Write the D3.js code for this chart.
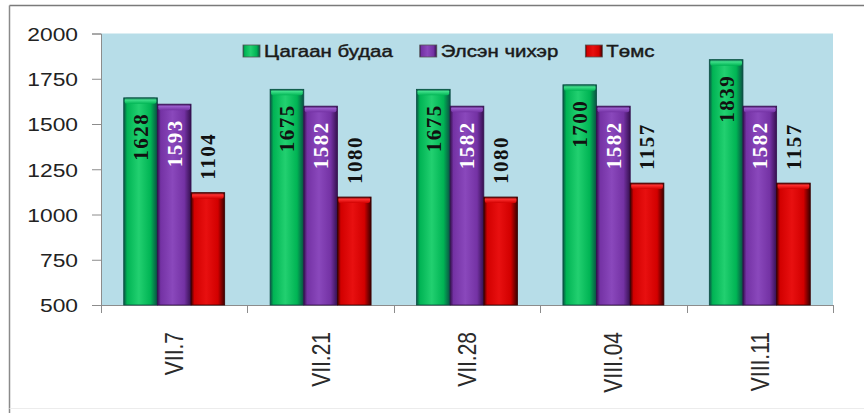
<!DOCTYPE html>
<html>
<head>
  <meta charset="utf-8">
  <title>Price chart</title>
  <script src="https://d3js.org/d3.v7.min.js"></script>
  <style>
    body { margin: 0; background: #ffffff; }
    svg { display: block; }
    .tick-label { font-family: 'Liberation Sans', Arial, sans-serif; fill: #222; }
    .legend-text { font-family: 'Liberation Sans', Arial, sans-serif; font-size: 17px; fill: #1a1a1a; stroke: #1a1a1a; stroke-width: 0.45px; }
    .value-label { font-family: 'Liberation Serif', 'Times New Roman', serif; font-weight: bold; font-size: 21px; letter-spacing: 1.5px; }
  </style>
</head>
<body>
<div id="chart"></div>
<script>
  // data
  const categories = ["VII.7", "VII.21", "VII.28", "VIII.04", "VIII.11"];
  const seriesNames = ["Цагаан будаа", "Элсэн чихэр", "Төмс"];
  const wheat = [1628, 1675, 1675, 1700, 1839];
  const sugar = [1593, 1582, 1582, 1582, 1582];
  const potato = [1104, 1080, 1080, 1157, 1157];
  const yTicks = [500, 750, 1000, 1250, 1500, 1750, 2000];

  const seriesValues = [wheat, sugar, potato];
  const palette = [
    { dark: "#0b4f44", base: "#00b454", light: "#22d070", cap: "#3fe08a", text: "#111" },
    { dark: "#35104f", base: "#7432a4", light: "#8a48bc", cap: "#9a5ccc", text: "#fff" },
    { dark: "#3a0000", base: "#d20000", light: "#e81010", cap: "#ff3030", text: "#111" }
  ];

  const W = 864, H = 413;
  const plot = { left: 101, right: 833, top: 33.5, bottom: 305 };
  const sx = 1.2; // the picture is stretched sideways

  const svg = d3.select("#chart").append("svg")
    .attr("width", W).attr("height", H);

  const defs = svg.append("defs");
  palette.forEach((p, i) => {
    const g = defs.append("linearGradient").attr("id", "bar" + i)
      .attr("x1", "0").attr("x2", "1").attr("y1", "0").attr("y2", "0");
    [[0, p.dark], [0.1, p.base], [0.45, p.light], [0.8, p.base], [1, p.dark]]
      .forEach(s => g.append("stop").attr("offset", s[0]).attr("stop-color", s[1]));
    const c = defs.append("linearGradient").attr("id", "cap" + i)
      .attr("x1", "0").attr("x2", "0").attr("y1", "0").attr("y2", "1");
    [[0, p.dark], [0.35, p.cap], [1, p.base]]
      .forEach(s => c.append("stop").attr("offset", s[0]).attr("stop-color", s[1]));
  });

  // outer frame
  svg.append("line").attr("x1", 9.5).attr("x2", W).attr("y1", 5.5).attr("y2", 5.5)
    .attr("stroke", "#7a7a7a").attr("stroke-width", 1.5);
  svg.append("line").attr("x1", 9.5).attr("x2", 9.5).attr("y1", 5.5).attr("y2", H)
    .attr("stroke", "#8a8a8a").attr("stroke-width", 1.5);
  svg.append("line").attr("x1", 9.5).attr("x2", W).attr("y1", 408.5).attr("y2", 408.5)
    .attr("stroke", "#ececec");

  const x0 = d3.scaleBand().domain(categories).range([plot.left, plot.right]).padding(0);
  const x1 = d3.scaleBand().domain(d3.range(seriesNames.length))
    .range([0, x0.bandwidth()]).paddingInner(0).paddingOuter(0.675);
  const y = d3.scaleLinear().domain([500, 2000]).range([plot.bottom, plot.top]);

  // plot background
  svg.append("rect")
    .attr("x", plot.left).attr("y", plot.top)
    .attr("width", plot.right - plot.left).attr("height", plot.bottom - plot.top)
    .attr("fill", "#b7dde8");

  // y axis
  const yAxis = svg.append("g").attr("transform", `translate(${plot.left},0)`)
    .call(d3.axisLeft(y).tickValues(yTicks).tickSize(9).tickFormat(d3.format("d")));
  yAxis.select(".domain").attr("stroke", "#8c8c8c");
  yAxis.selectAll(".tick line").attr("stroke", "#8c8c8c");
  yAxis.selectAll(".tick text").remove();
  yAxis.selectAll(".tick").append("text")
    .attr("class", "tick-label")
    .attr("transform", `translate(-23,0) scale(${sx},1)`)
    .attr("text-anchor", "end").attr("dy", "0.36em")
    .style("font-size", "19px")
    .text(d => d);

  // x axis, ticks on the category boundaries
  const xg = svg.append("g").attr("transform", `translate(0,${plot.bottom})`);
  xg.append("line").attr("x1", plot.left).attr("x2", plot.right)
    .attr("y1", 0.5).attr("y2", 0.5).attr("stroke", "#8c8c8c");
  const bounds = categories.map(c => x0(c)).concat([plot.right]);
  xg.selectAll(".xt").data(bounds).join("line").attr("class", "xt")
    .attr("x1", d => Math.round(d) + 0.5).attr("x2", d => Math.round(d) + 0.5)
    .attr("y1", 0).attr("y2", 8).attr("stroke", "#8c8c8c");
  xg.selectAll(".cat").data(categories).join("text")
    .attr("class", "tick-label")
    .attr("transform", d => `translate(${x0(d) + x0.bandwidth() / 2},${332 - plot.bottom}) scale(${sx},1) rotate(-90)`)
    .attr("text-anchor", "end").attr("dy", "0.36em")
    .style("font-size", "21px").style("fill", "#2a2a2a")
    .text(d => d);

  // bars
  const groups = svg.selectAll(".grp").data(categories).join("g")
    .attr("class", "grp")
    .attr("transform", d => `translate(${x0(d)},0)`);

  groups.each(function (cat, ci) {
    const g = d3.select(this);
    seriesValues.forEach((vals, si) => {
      const v = vals[ci];
      const bx = x1(si), bw = x1.bandwidth();
      const top = y(v) - 3;
      g.append("rect")
        .attr("x", bx).attr("y", top)
        .attr("width", bw).attr("height", plot.bottom - top)
        .attr("fill", `url(#bar${si})`)
        .attr("stroke", palette[si].dark).attr("stroke-width", 0.8);
      g.append("rect")
        .attr("x", bx + 1).attr("y", top)
        .attr("width", bw - 2).attr("height", 6)
        .attr("rx", 2)
        .attr("fill", `url(#cap${si})`);
      const inside = si < 2;
      g.append("text")
        .attr("class", "value-label")
        .attr("transform", `translate(${bx + bw / 2},${inside ? top + 15 : top - 13}) rotate(-90)`)
        .attr("text-anchor", inside ? "end" : "start")
        .attr("dy", "0.35em")
        .style("fill", palette[si].text)
        .text(v);
    });
  });

  // legend, laid out left to right
  const legend = svg.append("g").attr("transform", "translate(243,0)");
  let lx = 0;
  seriesNames.forEach((name, i) => {
    legend.append("rect")
      .attr("x", lx).attr("y", 45).attr("width", 17).attr("height", 12)
      .attr("fill", `url(#bar${i})`).attr("stroke", "#555").attr("stroke-width", 0.8);
    const t = legend.append("text")
      .attr("class", "legend-text")
      .attr("transform", `translate(${lx + 21},57) scale(${sx},1)`)
      .text(name);
    const w = t.node().getComputedTextLength() * sx;
    lx += 21 + w + 27;
  });
</script>
</body>
</html>
